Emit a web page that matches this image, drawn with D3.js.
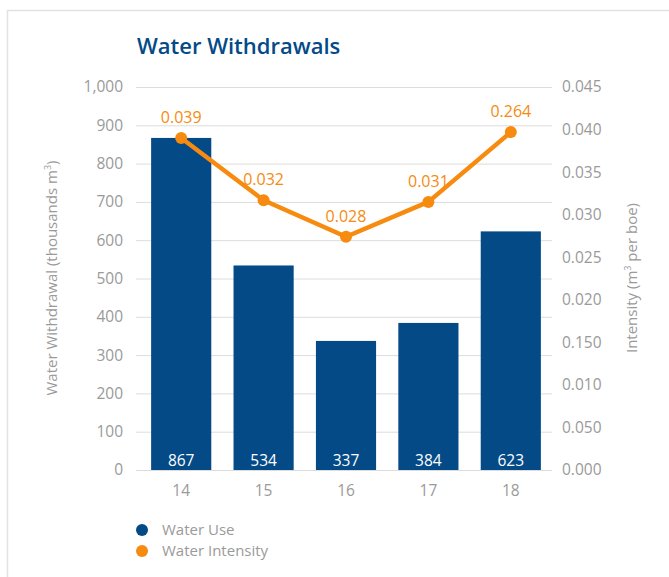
<!DOCTYPE html>
<html><head><meta charset="utf-8">
<script src="https://cdn.jsdelivr.net/npm/d3@7"></script>
<style>body{margin:0;background:#fff;} svg{display:block;font-family:"Open Sans",Lato,sans-serif;}</style>
</head><body>
<svg id="c" width="669" height="577"></svg>
<script>
const years = ["14","15","16","17","18"];
const waterUse = [867, 534, 337, 384, 623];
const intensity = [0.039, 0.0317, 0.0274, 0.0315, 0.0397];
const intensityLabels = ["0.039", "0.032", "0.028", "0.031", "0.264"];
const leftTicks = [0,100,200,300,400,500,600,700,800,900,1000];
const rightTickLabels = ["0.000","0.050","0.010","0.150","0.020","0.025","0.030","0.035","0.040","0.045"];

const svg = d3.select("#c");
const blue = "#034a87", orange = "#f68b0f", gray = "#9a9a9a";

// panel border
svg.append("path").attr("d","M7.5,577 V10.5 H669").attr("fill","none").attr("stroke","#e2e2e2").attr("stroke-width",1.5);

svg.append("text").attr("x",137).attr("y",54).attr("fill",blue)
  .attr("font-size",22).attr("font-weight",600).text("Water Withdrawals");

const y = d3.scaleLinear().domain([0,1000]).range([470,87]);
const yR = d3.scaleLinear().domain([0,0.045]).range([470,87]);
const x = d3.scaleBand().domain(years).range([140,552]).paddingInner(0.27).paddingOuter(0.135);

// gridlines
svg.append("g").selectAll("line").data(leftTicks).join("line")
  .attr("x1",136).attr("x2",552).attr("y1",d=>y(d)+0.5).attr("y2",d=>y(d)+0.5)
  .attr("stroke","#dcdcdc").attr("stroke-width",1);

// left axis labels
svg.append("g").selectAll("text").data(leftTicks).join("text")
  .attr("x",123).attr("y",d=>y(d)).attr("dy","0.35em").attr("text-anchor","end")
  .attr("fill",gray).attr("font-size",15.5).text(d=>d3.format(",")(d));

// right axis labels
const rTickVals = d3.range(0,10).map(i=>i*0.005);
svg.append("g").selectAll("text").data(rTickVals).join("text")
  .attr("x",562).attr("y",d=>yR(d)).attr("dy","0.35em").attr("text-anchor","start")
  .attr("fill",gray).attr("font-size",15.5).text((d,i)=>rightTickLabels[i]);

// axis titles
svg.append("text").attr("transform","translate(57,278) rotate(-90)").attr("text-anchor","middle")
  .attr("fill",gray).attr("font-size",15).html('Water Withdrawal (thousands m<tspan font-size="9" dy="-6">3</tspan><tspan dy="6">)</tspan>');
svg.append("text").attr("transform","translate(637,278) rotate(-90)").attr("text-anchor","middle")
  .attr("fill",gray).attr("font-size",15).html('Intensity (m<tspan font-size="9" dy="-6">3</tspan><tspan dy="6"> per boe)</tspan>');

// bars
svg.append("g").selectAll("rect").data(waterUse).join("rect")
  .attr("x",(d,i)=>x(years[i])).attr("width",x.bandwidth())
  .attr("y",d=>y(d)).attr("height",d=>y(0)-y(d)).attr("fill",blue);

svg.append("g").selectAll("text").data(waterUse).join("text")
  .attr("x",(d,i)=>x(years[i])+x.bandwidth()/2).attr("y",466).attr("text-anchor","middle")
  .attr("fill","#fff").attr("font-size",15.5).text(d=>d);

// x labels
svg.append("g").selectAll("text").data(years).join("text")
  .attr("x",d=>x(d)+x.bandwidth()/2).attr("y",496).attr("text-anchor","middle")
  .attr("fill",gray).attr("font-size",15.5).text(d=>d);

// line
const cx = i=>x(years[i])+x.bandwidth()/2;
const line = d3.line().x((d,i)=>cx(i)).y(d=>yR(d));
svg.append("path").datum(intensity).attr("d",line).attr("fill","none")
  .attr("stroke",orange).attr("stroke-width",4.5).attr("stroke-linejoin","round");
svg.append("g").selectAll("circle").data(intensity).join("circle")
  .attr("cx",(d,i)=>cx(i)).attr("cy",d=>yR(d)).attr("r",6).attr("fill",orange);
svg.append("g").selectAll("text").data(intensity).join("text")
  .attr("x",(d,i)=>cx(i)).attr("y",d=>yR(d)-15).attr("text-anchor","middle")
  .attr("fill",orange).attr("font-size",16).text((d,i)=>intensityLabels[i]);

// legend
const legend = [["Water Use",blue],["Water Intensity",orange]];
const lg = svg.append("g").selectAll("g").data(legend).join("g")
  .attr("transform",(d,i)=>`translate(142,${530+i*21})`);
lg.append("circle").attr("r",6).attr("fill",d=>d[1]);
lg.append("text").attr("x",20).attr("dy","0.35em").attr("fill",gray).attr("font-size",15).text(d=>d[0]);
</script>
</body></html>
